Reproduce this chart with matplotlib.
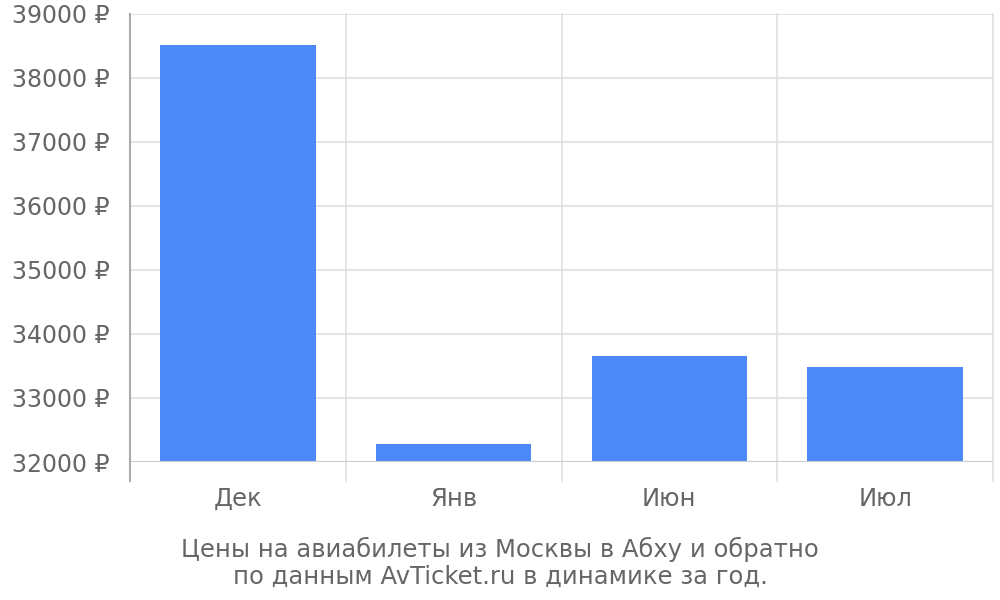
import matplotlib
matplotlib.use("Agg")
import matplotlib.pyplot as plt
import matplotlib.transforms as mtransforms

categories = ["Дек", "Янв", "Июн", "Июл"]
prices = [38515, 32280, 33655, 33478]
y_ticks = [32000, 33000, 34000, 35000, 36000, 37000, 38000, 39000]
title = "Цены на авиабилеты из Москвы в Абху и обратно\nпо данным AvTicket.ru в динамике за год."

text_color = "#666666"
bar_color = "#4d89f9"

plt.rcParams['font.family'] = ['DejaVu Sans']
fig = plt.figure(figsize=(10, 6), dpi=100)
ax = fig.add_axes([0.13, 0.23, 0.863, 0.7467])

x = list(range(len(categories)))
ax.bar(x, [p - 32000 for p in prices], bottom=32000, width=0.72, color=bar_color, zorder=3)

ax.set_xlim(-0.5, len(categories) - 0.5)
ax.set_ylim(32000, 39000)
ax.set_yticks(y_ticks)
ax.set_yticklabels([f"{t} ₽" for t in y_ticks], fontsize=17, color=text_color)
ax.set_xticks(x)
ax.set_xticklabels(categories, fontsize=17.5, color=text_color)
ax.tick_params(axis='both', length=0)
ax.tick_params(axis='y', pad=14.5)
ax.tick_params(axis='x', pad=18)

for s in ax.spines.values():
    s.set_visible(False)

for t in y_ticks[1:]:
    ax.axhline(t, color="#e0e0e0", lw=1.2, zorder=1)
ax.axhline(32000, color="#cccccc", lw=1.5, zorder=4)

trans = mtransforms.blended_transform_factory(ax.transData, ax.transAxes)
ext = -19 / 448
for i, b in enumerate([-0.5, 0.5, 1.5, 2.5, 3.5]):
    if i == 0:
        ax.plot([b, b], [ext, 1], transform=trans, color="#aaaaaa", lw=1.5, clip_on=False, zorder=5)
    else:
        ax.plot([b, b], [ext, 1], transform=trans, color="#e0e0e0", lw=1.2, clip_on=False, zorder=1)

fig.text(0.5, 0.062, title, ha='center', va='center', fontsize=17.5, color=text_color, linespacing=1.18)

fig.savefig("out.png", dpi=100, facecolor="white")
